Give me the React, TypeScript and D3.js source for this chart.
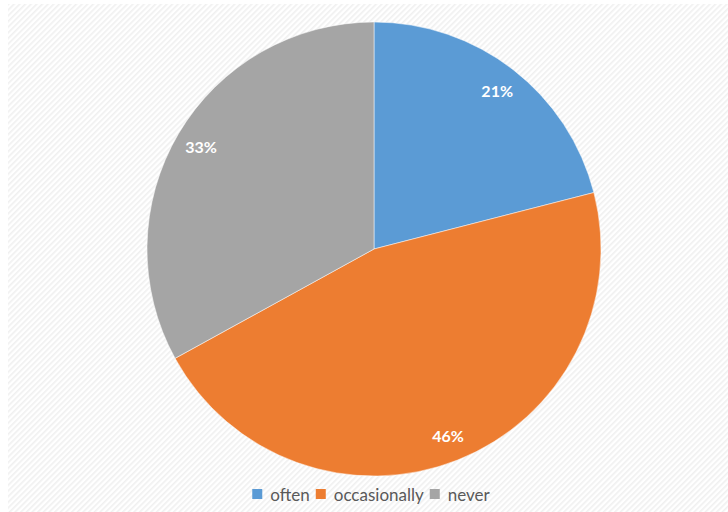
import React, { useEffect, useRef } from "react";
import * as d3 from "d3";

const categories = ["often", "occasionally", "never"];
const values = [21, 46, 33];
const colors = ["#5B9BD5", "#ED7D31", "#A5A5A5"];

const W = 728;
const H = 512;

export default function App() {
  const ref = useRef<SVGSVGElement>(null);

  useEffect(() => {
    const svg = d3.select(ref.current);
    svg.selectAll("*").remove();

    const defs = svg.append("defs");
    const pat = defs
      .append("pattern")
      .attr("id", "hatch")
      .attr("patternUnits", "userSpaceOnUse")
      .attr("width", 4)
      .attr("height", 4)
      .attr("patternTransform", "rotate(-45)");
    pat.append("rect").attr("width", 4).attr("height", 4).attr("fill", "#ffffff");
    pat.append("rect").attr("width", 4).attr("height", 1.6).attr("fill", "#f0f0f0");

    svg.append("rect").attr("width", W).attr("height", H).attr("fill", "#ffffff");
    svg
      .append("rect")
      .attr("x", 8)
      .attr("y", 4)
      .attr("width", W - 8)
      .attr("height", H - 4)
      .attr("fill", "url(#hatch)");

    const cx = 374;
    const cy = 249;
    const r = 227;

    const pie = d3.pie<number>().sort(null).value((d) => d);
    const arcs = pie(values);
    const arc = d3.arc<d3.PieArcDatum<number>>().innerRadius(0).outerRadius(r);
    const labelArc = d3.arc<d3.PieArcDatum<number>>().innerRadius(201).outerRadius(201);

    const g = svg.append("g").attr("transform", `translate(${cx},${cy})`);
    g.selectAll("path.slice")
      .data(arcs)
      .join("path")
      .attr("class", "slice")
      .attr("d", arc)
      .attr("fill", (_, i) => colors[i])
      .attr("stroke", "#ffffff")
      .attr("stroke-width", 0.5);

    const total = d3.sum(values);
    g.selectAll("text.lbl")
      .data(arcs)
      .join("text")
      .attr("class", "lbl")
      .attr("transform", (d) => {
        const [x, y] = labelArc.centroid(d);
        return `translate(${x},${y})`;
      })
      .attr("text-anchor", "middle")
      .attr("dominant-baseline", "central")
      .attr("fill", "#ffffff")
      .attr("font-family", "Lato, 'Open Sans', sans-serif")
      .attr("font-weight", "bold")
      .attr("font-size", 16)
      .text((d) => `${Math.round((d.value / total) * 100)}%`);

    // legend
    const lg = svg.append("g");
    const items = lg
      .selectAll("g.item")
      .data(categories)
      .join("g")
      .attr("class", "item");
    items
      .append("rect")
      .attr("width", 10)
      .attr("height", 10)
      .attr("y", 489)
      .attr("fill", (_, i) => colors[i]);
    const texts = items
      .append("text")
      .attr("y", 494)
      .attr("dominant-baseline", "central")
      .attr("font-family", "Lato, 'Open Sans', sans-serif")
      .attr("font-size", 17)
      .attr("fill", "#595959")
      .text((d) => d);

    const widths: number[] = [];
    texts.each(function () {
      widths.push((this as SVGTextElement).getComputedTextLength());
    });
    const sqW = 10;
    const gap1 = 8;
    const gap2 = 6;
    const totalW = d3.sum(widths.map((w) => sqW + gap1 + w)) + gap2 * (widths.length - 1);
    let x = (253 + 489) / 2 - totalW / 2;
    items.each(function (_, i) {
      const it = d3.select(this);
      it.select("rect").attr("x", x);
      it.select("text").attr("x", x + sqW + gap1);
      x += sqW + gap1 + widths[i] + gap2;
    });
  }, []);

  return <svg ref={ref} width={W} height={H} style={{ display: "block", position: "absolute", left: 0, top: 0 }} />;
}
